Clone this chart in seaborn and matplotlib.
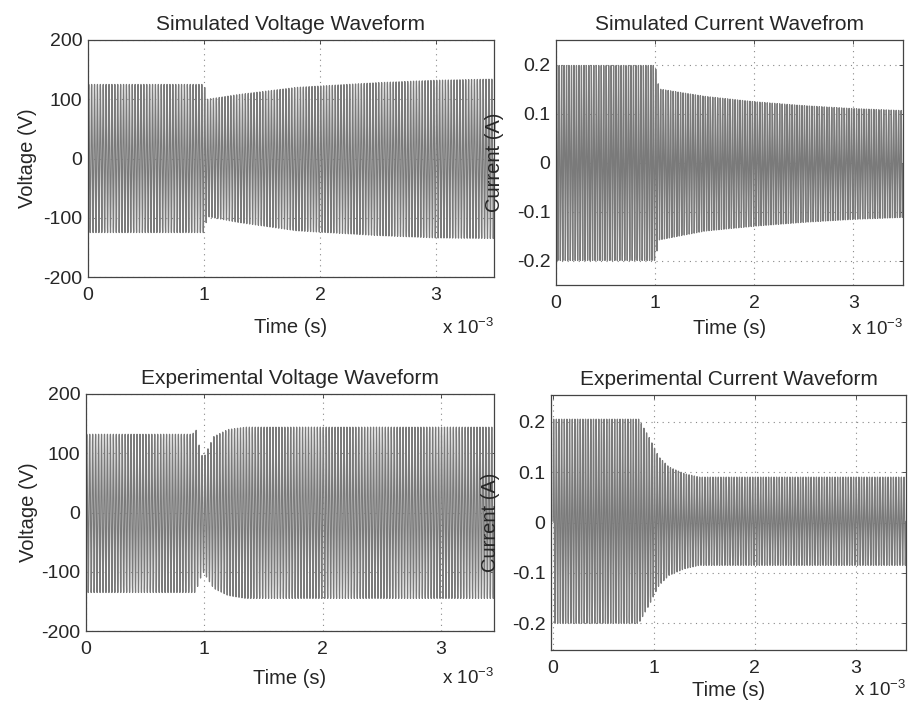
import numpy as np
import pandas as pd
import matplotlib
matplotlib.use("Agg")
import matplotlib.pyplot as plt
import seaborn as sns

# ---- data (envelope key points) ----
carrier_hz = 40000.0

sim_v_t = [0.0, 1.0e-3, 1.03e-3, 1.3e-3, 1.8e-3, 2.5e-3, 3.0e-3, 3.5e-3]
sim_v_up = [125, 125, 100, 108, 120, 128, 132, 134]
sim_v_lo = [-125, -125, -98, -108, -122, -130, -134, -135]

sim_i_t = [0.0, 1.0e-3, 1.04e-3, 1.5e-3, 2.0e-3, 2.5e-3, 3.0e-3, 3.5e-3]
sim_i_up = [0.198, 0.198, 0.150, 0.135, 0.124, 0.116, 0.110, 0.106]
sim_i_lo = [-0.200, -0.200, -0.158, -0.140, -0.130, -0.122, -0.116, -0.112]

exp_v_t = [0.0, 0.90e-3, 0.93e-3, 0.95e-3, 0.99e-3, 1.08e-3, 1.2e-3, 1.35e-3, 3.45e-3]
exp_v_up = [132, 132, 140, 118, 90, 128, 140, 144, 144]
exp_v_lo = [-135, -135, -135, -120, -100, -128, -140, -145, -145]

exp_i_t = [0.0, 0.85e-3, 0.95e-3, 1.05e-3, 1.15e-3, 1.3e-3, 1.45e-3, 3.5e-3]
exp_i_up = [0.205, 0.205, 0.170, 0.130, 0.110, 0.097, 0.090, 0.090]
exp_i_lo = [-0.200, -0.200, -0.165, -0.125, -0.105, -0.092, -0.085, -0.085]

x_ticks = [0.0, 1e-3, 2e-3, 3e-3]
x_ticklabels = ["0", "1", "2", "3"]
v_ticks = [-200, -100, 0, 100, 200]
v_ticklabels = ["-200", "-100", "0", "100", "200"]
i_ticks = [-0.2, -0.1, 0.0, 0.1, 0.2]
i_ticklabels = ["-0.2", "-0.1", "0", "0.1", "0.2"]

titles = ["Simulated Voltage Waveform", "Simulated Current Wavefrom",
          "Experimental Voltage Waveform", "Experimental Current Waveform"]

# ---- build waveforms ----
def waveform(kt, up, lo, t_end, f):
    t = np.linspace(0, t_end, 24000)
    u = np.interp(t, kt, up)
    l = np.interp(t, kt, lo)
    mid = (u + l) / 2
    amp = (u - l) / 2
    s = np.sin(2 * np.pi * f * t)
    return pd.DataFrame({"t": t, "y": mid + amp * s})

df_sv = waveform(sim_v_t, sim_v_up, sim_v_lo, 3.5e-3, carrier_hz)
df_si = waveform(sim_i_t, sim_i_up, sim_i_lo, 3.5e-3, carrier_hz)
df_ev = waveform(exp_v_t, exp_v_up, exp_v_lo, 3.45e-3, carrier_hz)
df_ei = waveform(exp_i_t, exp_i_up, exp_i_lo, 3.5e-3, carrier_hz * 0.95)

# ---- figure ----
sns.set_style("white")
plt.rcParams["font.family"] = ["Liberation Sans", "DejaVu Sans"]
plt.rcParams["mathtext.default"] = "regular"
plt.rcParams["xtick.direction"] = "in"
plt.rcParams["ytick.direction"] = "in"

fig = plt.figure(figsize=(9.08, 7.08), dpi=100)
W, H = 908.0, 708.0
def add_ax(l, r, t, b):
    return fig.add_axes([l / W, 1 - b / H, (r - l) / W, (b - t) / H])

# (left, right, top, bottom) px ; ylabel x px ; xlabel offset px
layout = [
    ((88, 494, 40, 277), 28, 51),
    ((556, 903, 40, 285), 494, 44),
    ((86, 494, 394, 631), 28, 47),
    ((551, 906, 395, 650), 490, 40),
]
datas = [df_sv, df_si, df_ev, df_ei]
xlims = [(0, 3.5e-3), (0, 3.5e-3), (0, 3.45e-3), (-0.02e-3, 3.5e-3)]
ylims = [(-200, 200), (-0.25, 0.25), (-200, 200), (-0.253, 0.253)]
yticks = [(v_ticks, v_ticklabels), (i_ticks, i_ticklabels),
          (v_ticks, v_ticklabels), (i_ticks, i_ticklabels)]
ylabels = ["Voltage (V)", "Current (A)", "Voltage (V)", "Current (A)"]

for k in range(4):
    (l, r, t, b), ylx, xoff = layout[k]
    ax = add_ax(l, r, t, b)
    wpx, hpx = r - l, b - t
    sns.lineplot(data=datas[k], x="t", y="y", ax=ax, color="#7a7a7a",
                 linewidth=0.9, estimator=None, sort=False)
    ax.set_xlim(*xlims[k])
    ax.set_ylim(*ylims[k])
    ax.set_xticks(x_ticks)
    ax.set_xticklabels(x_ticklabels)
    ax.set_yticks(yticks[k][0])
    ax.set_yticklabels(yticks[k][1])
    ax.tick_params(labelsize=14, length=3, width=0.6, color="#333333",
                   top=True, right=True)
    ax.tick_params(axis="x", pad=7)
    ax.tick_params(axis="y", pad=4)
    ax.grid(True, linestyle=(0, (1, 4)), color="#888888", linewidth=0.8)
    ax.set_axisbelow(True)
    for sp in ax.spines.values():
        sp.set_visible(True)
        sp.set_color("#444444")
        sp.set_linewidth(0.9)
    ax.set_xlabel("Time (s)", fontsize=14.5)
    ax.xaxis.set_label_coords(0.5, -xoff / hpx)
    ax.xaxis.label.set_va("center")
    ax.set_ylabel(ylabels[k], fontsize=14.5)
    ax.yaxis.set_label_coords((ylx - l) / wpx, 0.5)
    ax.yaxis.label.set_va("center")
    ax.set_title(titles[k], fontsize=15, pad=7)
    ax.text(1.0, -xoff / hpx, r"x 10$^{-3}$", transform=ax.transAxes,
            ha="right", va="center", fontsize=13.5)

fig.savefig("out.png", dpi=100)
